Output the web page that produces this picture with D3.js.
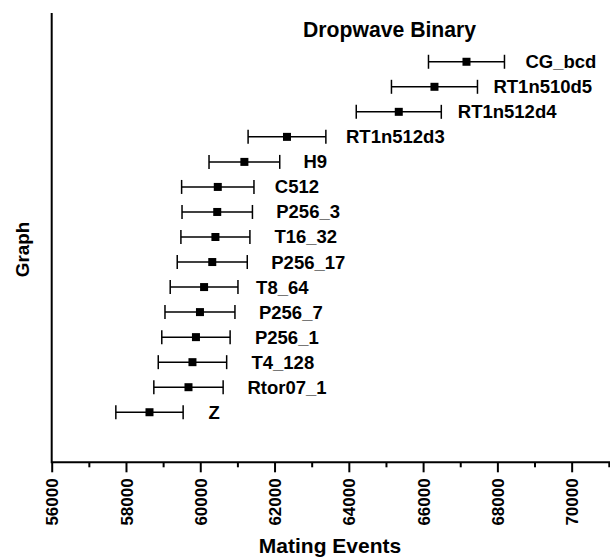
<!DOCTYPE html>
<html>
<head>
<meta charset="utf-8">
<script src="https://cdn.jsdelivr.net/npm/d3@7"></script>
<style>
  html, body { margin: 0; padding: 0; background: #fff; }
  svg { display: block; font-family: "Liberation Sans", Arial, sans-serif; }
</style>
</head>
<body>
<svg id="chart" width="610" height="559"></svg>
<script>
// Mean number of mating events per strategy, with error half-widths
const categories = ["Z", "Rtor07_1", "T4_128", "P256_1", "P256_7", "T8_64", "P256_17",
  "T16_32", "P256_3", "C512", "H9", "RT1n512d3", "RT1n512d4", "RT1n510d5", "CG_bcd"];
const rows = [2, 3, 4, 5, 6, 7, 8, 9, 10, 11, 12, 13, 14, 15, 16];
const means = [58633, 59683, 59790, 59884, 59992, 60103, 60323, 60408, 60457, 60472,
  61188, 62335, 65345, 66306, 67168];
const errors = [906, 933, 921, 920, 942, 912, 943, 929, 948, 974, 952, 1047, 1145, 1158, 1023];
const xTicks = [56000, 58000, 60000, 62000, 64000, 66000, 68000, 70000];
const xMinorTicks = [57000, 59000, 61000, 63000, 65000, 67000, 69000, 71000];

const title = "Dropwave Binary";
const xTitle = "Mating Events";
const yTitle = "Graph";

const data = categories.map((c, i) => ({ name: c, row: rows[i], mean: means[i], err: errors[i] }));

const svg = d3.select("#chart");
const x = d3.scaleLinear().domain([56000, 71000]).range([51.7, 608.8]);
const y = d3.scaleLinear().domain([0, 18]).range([462.3, 11.7]);

// small per-label horizontal nudges for the hand-placed labels
const labelNudge = { "T8_64": -7, "C512": -2 };

// x axis: major ticks with labels, minor ticks between
const xAxis = svg.append("g").attr("transform", `translate(0,${y(0)})`)
  .call(d3.axisBottom(x).tickValues(xTicks).tickFormat(d3.format("d")).tickSize(10).tickSizeOuter(0));
xAxis.select(".domain").attr("stroke", "#000").attr("stroke-width", 2)
  .attr("d", `M${x.range()[0]},0H610`);
xAxis.selectAll(".tick line").attr("stroke", "#000").attr("stroke-width", 2);
xAxis.selectAll(".tick text")
  .attr("transform", "rotate(-90)")
  .attr("x", -16).attr("y", 0).attr("dy", "0.36em")
  .attr("text-anchor", "end")
  .attr("fill", "#000")
  .style("font-size", "17px").style("font-weight", "bold")
  .style("font-family", "'Liberation Sans', Arial, sans-serif");

const minor = svg.append("g").attr("transform", `translate(0,${y(0)})`)
  .call(d3.axisBottom(x).tickValues(xMinorTicks).tickFormat("").tickSize(5).tickSizeOuter(0));
minor.select(".domain").remove();
minor.selectAll(".tick line").attr("stroke", "#000").attr("stroke-width", 2);

// y axis: plain line, no ticks
const yAxis = svg.append("g").attr("transform", `translate(${x(56000)},0)`)
  .call(d3.axisLeft(y).tickValues([]).tickSizeOuter(0));
yAxis.select(".domain").attr("stroke", "#000").attr("stroke-width", 2)
  .attr("d", `M0,${y(0) + 1}V13`);

// error bars
const g = svg.append("g");
const capH = 7;
const bars = g.selectAll("g.bar").data(data).enter().append("g").attr("class", "bar");
bars.append("line")
  .attr("x1", d => x(d.mean - d.err)).attr("x2", d => x(d.mean + d.err))
  .attr("y1", d => y(d.row)).attr("y2", d => y(d.row))
  .attr("stroke", "#000").attr("stroke-width", 1.5);
bars.append("line")
  .attr("x1", d => x(d.mean - d.err)).attr("x2", d => x(d.mean - d.err))
  .attr("y1", d => y(d.row) - capH).attr("y2", d => y(d.row) + capH)
  .attr("stroke", "#000").attr("stroke-width", 1.5);
bars.append("line")
  .attr("x1", d => x(d.mean + d.err)).attr("x2", d => x(d.mean + d.err))
  .attr("y1", d => y(d.row) - capH).attr("y2", d => y(d.row) + capH)
  .attr("stroke", "#000").attr("stroke-width", 1.5);
bars.append("rect")
  .attr("x", d => x(d.mean) - 4).attr("y", d => y(d.row) - 4)
  .attr("width", 8).attr("height", 8).attr("fill", "#000");
bars.append("text")
  .attr("x", d => x(d.mean) + 59 + (labelNudge[d.name] || 0))
  .attr("y", d => y(d.row)).attr("dy", "0.35em")
  .attr("fill", "#000")
  .style("font-size", "18.5px").style("font-weight", "bold")
  .text(d => d.name);

// titles
svg.append("text").attr("x", 303).attr("y", 37)
  .style("font-size", "21.2px").style("font-weight", "bold").attr("fill", "#000")
  .text(title);
svg.append("text").attr("x", 330).attr("y", 552.5).attr("text-anchor", "middle")
  .style("font-size", "21px").style("font-weight", "bold").attr("fill", "#000")
  .text(xTitle);
svg.append("text").attr("transform", "translate(28.5,249.5) rotate(-90)")
  .attr("text-anchor", "middle")
  .style("font-size", "18.8px").style("font-weight", "bold").attr("fill", "#000")
  .text(yTitle);
</script>
</body>
</html>
